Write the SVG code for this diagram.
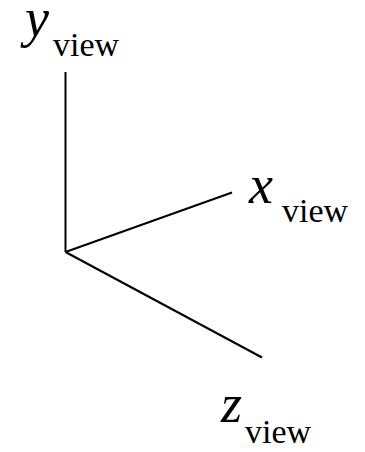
<svg xmlns="http://www.w3.org/2000/svg" width="365" height="452" viewBox="0 0 365 452">
<style>
.ax{stroke:#000;stroke-width:2;fill:none}
text{font-family:'Liberation Serif','Times New Roman',serif;fill:#000}
.v{font-style:italic;font-size:54px}
.s{font-size:34px}
</style>
<rect width="365" height="452" fill="#fff"/>
<g id="connectors">
<line class="ax" x1="65.5" y1="252" x2="65.5" y2="72"/>
<line class="ax" x1="65.5" y1="252" x2="232" y2="192.5"/>
<line class="ax" x1="65.5" y1="252" x2="262" y2="357.5"/>
</g>
<g id="y-label"><text class="v" x="25" y="36">y</text><text class="s" x="53" y="56">view</text></g>
<g id="x-label"><text class="v" x="249" y="203">x</text><text class="s" x="282" y="222">view</text></g>
<g id="z-label"><text class="v" x="221" y="422">z</text><text class="s" x="245" y="443">view</text></g>
</svg>
